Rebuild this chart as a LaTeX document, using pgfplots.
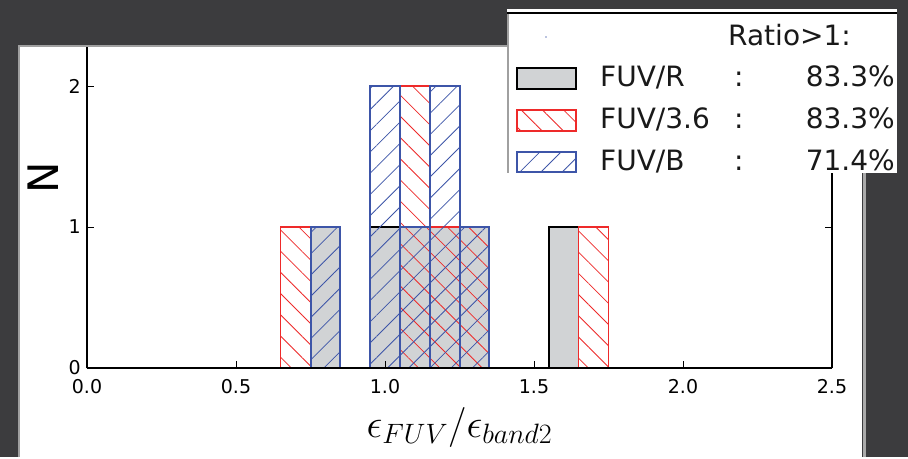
\RequirePackage{fix-cm}
\documentclass[border=0pt]{standalone}
\usepackage{fontspec}
\setmainfont{DejaVu Sans}
\usepackage{pgfplots}
\pgfplotsset{compat=1.18}
\usetikzlibrary{patterns.meta}
\definecolor{bgdark}{HTML}{3C3C3E}
\definecolor{panelgray}{HTML}{A0A0A0}
\definecolor{barfill}{HTML}{D1D3D5}
\definecolor{hred}{HTML}{EE2A2A}
\definecolor{hblue}{HTML}{3D55A8}
\begin{document}
\begin{tikzpicture}[x=1pt,y=1pt]
\fill[bgdark] (0pt,0pt) rectangle (908pt,457pt);
\fill[white] (18pt,0pt) rectangle (862pt,410pt);
\draw[panelgray,line width=2pt] (19pt,0pt) -- (19pt,411pt) -- (862pt,411pt);
\draw[panelgray!90,line width=3pt] (864pt,0pt) -- (864pt,300pt);
\begin{axis}[
  at={(87pt,89pt)}, anchor=south west, scale only axis,
  width=745pt, height=321pt,
  xmin=0, xmax=2.5, ymin=0, ymax=2.2766,
  axis x line*=bottom, axis y line*=box,
  axis on top=true,
  axis line style={line width=1.8pt, black},
  xtick={0,0.5,1,1.5,2,2.5}, xticklabels={0.0,0.5,1.0,1.5,2.0,2.5},
  ytick={0,1,2}, yticklabels={0,1,2},
  tick align=inside, major tick length=7pt,
  every tick/.style={black, line width=1pt},
  xticklabel style={font=\fontsize{19}{19}\selectfont, anchor=north, inner sep=0pt, yshift=-11pt},
  yticklabel style={font=\fontsize{19}{19}\selectfont, anchor=east, inner sep=0pt, xshift=-6pt},
  ylabel={N},
  every axis y label/.style={at={(axis description cs:-0.059,0.592)}, rotate=90, anchor=center, font=\fontsize{42}{42}\selectfont},
  xlabel={$\epsilon_{FUV}/\epsilon_{band2}$},
  every axis x label/.style={at={(axis description cs:0.5,-0.215)}, anchor=base, font=\fontsize{40}{40}\selectfont},
]
% FUV/R
\addplot[ybar interval, fill=barfill, draw=black, line width=1.2pt] coordinates {
(0.05,0)(0.15,0)(0.25,0)(0.35,0)(0.45,0)(0.55,0)(0.65,0)(0.75,1)(0.85,0)(0.95,1)(1.05,1)(1.15,1)(1.25,1)(1.35,0)(1.45,0)(1.55,1)(1.65,0)(1.75,0)(1.85,0)(1.95,0)(2.05,0)(2.15,0)(2.25,0)(2.35,0)(2.45,0)};
% FUV/3.6
\addplot[ybar interval, draw=hred, line width=1.5pt, pattern={Lines[angle=-45,distance=15pt,line width=0.8pt]}, pattern color=hred] coordinates {
(0.05,0)(0.15,0)(0.25,0)(0.35,0)(0.45,0)(0.55,0)(0.65,1)(0.75,0)(0.85,0)(0.95,0)(1.05,2)(1.15,1)(1.25,1)(1.35,0)(1.45,0)(1.55,0)(1.65,1)(1.75,0)(1.85,0)(1.95,0)(2.05,0)(2.15,0)(2.25,0)(2.35,0)(2.45,0)};
% FUV/B
\addplot[ybar interval, draw=hblue, line width=2pt, pattern={Lines[angle=45,distance=15pt,line width=0.8pt]}, pattern color=hblue] coordinates {
(0.05,0)(0.15,0)(0.25,0)(0.35,0)(0.45,0)(0.55,0)(0.65,0)(0.75,1)(0.85,0)(0.95,2)(1.05,1)(1.15,2)(1.25,1)(1.35,0)(1.45,0)(1.55,0)(1.65,0)(1.75,0)(1.85,0)(1.95,0)(2.05,0)(2.15,0)(2.25,0)(2.35,0)(2.45,0)};
\end{axis}
% legend
\begin{scope}
\clip (507pt,284pt) rectangle (897pt,448pt);
\fill[white] (507pt,284pt) rectangle (897pt,448pt);
\draw[black,line width=2pt] (507pt,443.5pt) -- (897pt,443.5pt);
\draw[panelgray,line width=1.5pt] (507.75pt,284pt) -- (507.75pt,443pt);
\fill[hblue!70] (546pt,420pt) circle (0.8pt);
\begin{scope}[every node/.style={inner sep=0pt, font=\fontsize{28}{28}\selectfont, text=black!90}]
\node[anchor=base west] at (728pt,411pt) {Ratio>1:};
\fill[barfill] (517pt,368pt) rectangle (576pt,389pt);
\draw[black, line width=1.2pt] (517pt,368pt) rectangle (576pt,389pt);
\node[anchor=base west] at (600pt,370pt) {FUV/R};
\node[anchor=base west] at (734pt,370pt) {:};
\node[anchor=base east] at (895pt,370pt) {83.3\%};
\fill[pattern={Lines[angle=-45,distance=15pt,line width=0.8pt]}, pattern color=hred] (517pt,326pt) rectangle (576pt,347pt);
\draw[hred, line width=1.5pt] (517pt,326pt) rectangle (576pt,347pt);
\node[anchor=base west] at (600pt,328pt) {FUV/3.6};
\node[anchor=base west] at (734pt,328pt) {:};
\node[anchor=base east] at (895pt,328pt) {83.3\%};
\fill[pattern={Lines[angle=45,distance=15pt,line width=0.8pt]}, pattern color=hblue] (517pt,284pt) rectangle (576pt,305pt);
\draw[hblue, line width=2pt] (517pt,285pt) rectangle (576pt,305pt);
\node[anchor=base west] at (600pt,286pt) {FUV/B};
\node[anchor=base west] at (734pt,286pt) {:};
\node[anchor=base east] at (895pt,286pt) {71.4\%};
\end{scope}
\end{scope}
\end{tikzpicture}
\end{document}
